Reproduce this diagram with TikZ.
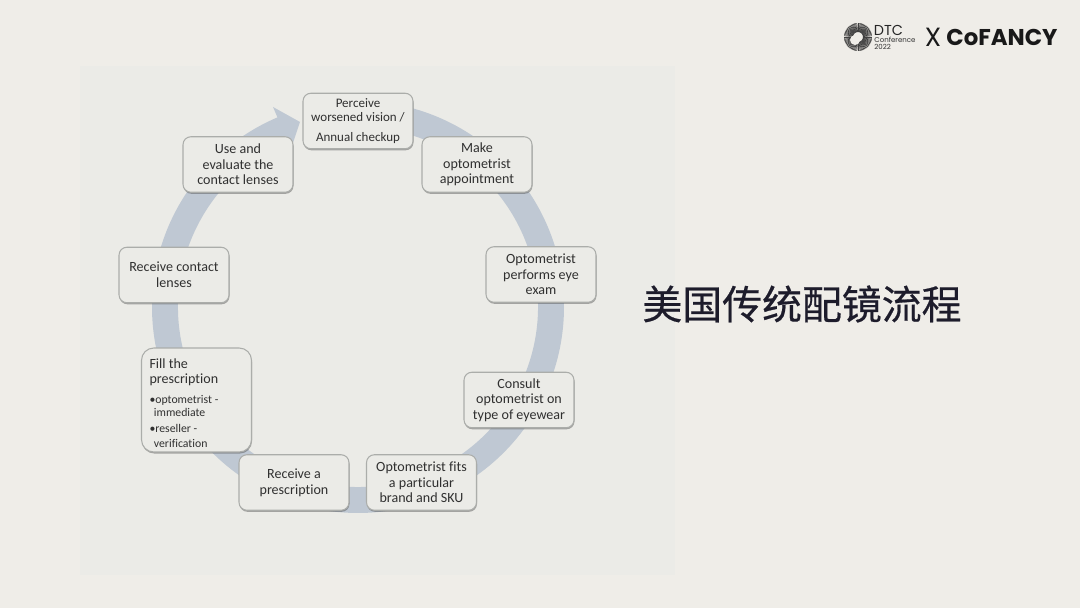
\documentclass[tikz,border=0pt]{standalone}
\usepackage{fontspec}
\setmainfont[Ligatures=NoCommon]{Carlito}
\newfontfamily\cjk[FakeBold=0.5]{Noto Sans CJK SC}
\newfontfamily\logofont{Poppins}
\usetikzlibrary{shadows}
\definecolor{pagebg}{HTML}{EFEDE8}
\definecolor{panelbg}{HTML}{EBEBE7}
\definecolor{ringblue}{HTML}{BFC8D3}
\definecolor{stepedge}{HTML}{ABADAA}
\definecolor{steptext}{HTML}{303030}
\definecolor{titleink}{HTML}{1D1C2B}
\newcommand{\subline}{\fontsize{6.7}{7.5}\selectfont}

\begin{document}
\begin{tikzpicture}[x=0.02cm, y=0.02cm,
    stepbox/.style={draw=stepedge, line width=0.6pt, fill=panelbg, rounded corners=4.5pt,
        minimum width=2.2cm, minimum height=1.11cm, inner sep=0pt, align=center,
        text=steptext, font=\fontsize{8}{8.9}\selectfont,
        drop shadow={shadow xshift=0.3pt, shadow yshift=-0.9pt, opacity=0.45, fill=black!70}},
    ]
    \useasboundingbox (0, 0) rectangle (1080, 608);
    \fill[pagebg] (0, 0) rectangle (1080, 608);

    % Panel
    \fill[panelbg] (80, 33) rectangle (675, 542);

    % Ring with arrowhead
    \fill[ringblue] (358, 301) ++(90:206) arc (90:-248:206) -- ++(-248:-26) arc (-248:90:180) -- cycle;
    \fill[ringblue] (273, 501) -- (300, 486) -- (291, 459) -- cycle;

    % Steps
    \node[stepbox, font=\fontsize{7.4}{8}\selectfont] (perceive) at (358, 487) {Perceive\\worsened vision /\\[3.5pt]Annual checkup};
    \node[stepbox] (appointment) at (477, 443.5) {Make\\optometrist\\appointment};
    \node[stepbox] (exam) at (541, 333.5) {Optometrist\\performs eye\\exam};
    \node[stepbox] (consult) at (519, 208) {Consult\\optometrist on\\type of eyewear};
    \node[stepbox] (fits) at (421.5, 125.5) {Optometrist fits\\a particular\\brand and SKU};
    \node[stepbox] (prescription) at (294, 125.5) {Receive a\\prescription};
    \node[stepbox, minimum height=2.08cm, rounded corners=7pt, text width=1.88cm, align=flush left] (filling) at (196.5, 208)
        {\rule{0pt}{9pt}Fill the\\prescription\\[3.5pt]\subline\textbullet optometrist -\\\subline\hspace*{2.5pt}immediate\\[1.5pt]\subline\textbullet reseller -\\\subline\hspace*{2.5pt}verification};
    \node[stepbox] (receive) at (174, 333) {Receive contact\\lenses};
    \node[stepbox] (evaluate) at (238, 443.5) {Use and\\evaluate the\\contact lenses};

    % Title
    \node[text=titleink, font=\cjk\fontsize{22.7}{26}\selectfont, inner sep=0pt] (title) at (802, 304) {美国传统配镜流程};

    % Logo
    \foreach \a in {0,5,...,355}
        \draw[black!75, line width=0.4pt] (858, 571) ++(\a:5) -- ++(\a:9);
    \fill[pagebg] (855, 568) circle (5);
    \node[anchor=west, inner sep=0pt, text=black!85, font=\logofont\fontsize{8.2}{9}\selectfont] (dtc) at (873.5, 578) {DTC};
    \node[anchor=west, inner sep=0pt, text=black!80, font=\logofont\fontsize{4}{4}\selectfont] (conference) at (874, 568) {Conference};
    \node[anchor=west, inner sep=0pt, text=black!80, font=\logofont\fontsize{4}{4}\selectfont] (year) at (874, 561.5) {2022};
    \node[inner sep=0pt, text=black!90, font=\logofont\fontsize{15}{15}\selectfont] (cross) at (933, 571) {X};
    \node[anchor=west, inner sep=0pt, text=black!90, font=\logofont\bfseries\fontsize{13}{13}\selectfont] (brand) at (946, 571) {CoFANCY};
\end{tikzpicture}
\end{document}
